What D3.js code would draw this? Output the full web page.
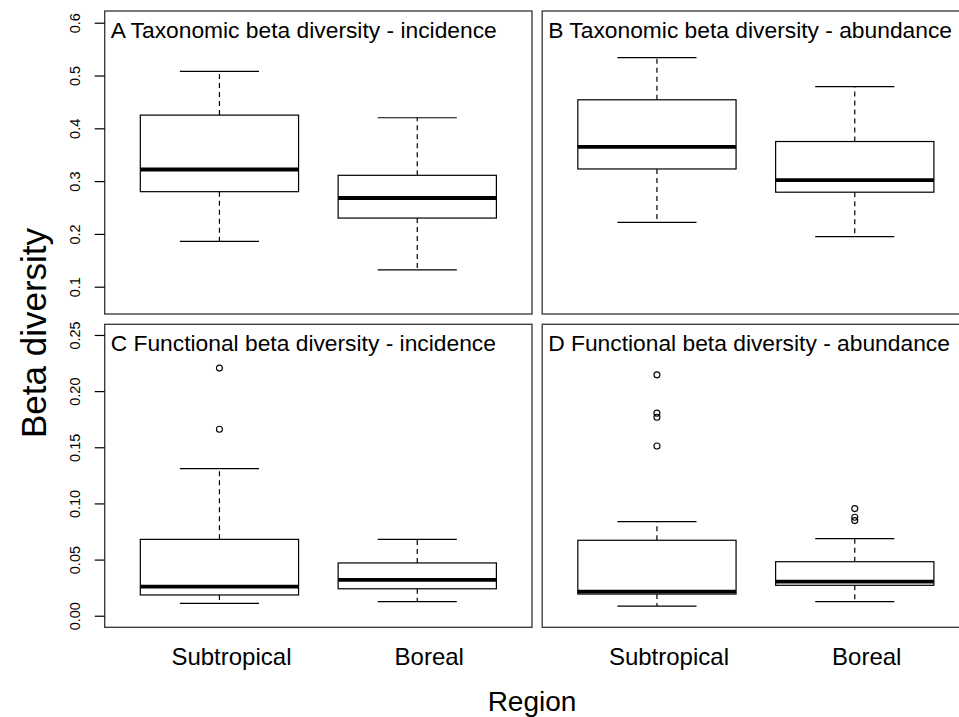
<!DOCTYPE html>
<html>
<head>
<meta charset="utf-8">
<script src="https://cdn.jsdelivr.net/npm/d3@7"></script>
<style>
  body { margin: 0; background: #fff; }
  svg { font-family: "Liberation Sans", Arial, sans-serif; }
</style>
</head>
<body>
<svg width="959" height="717"></svg>
<script>
// categories
const regions = ["Subtropical", "Boreal"];
const panelTitles = [
  "A Taxonomic beta diversity - incidence",
  "B Taxonomic beta diversity - abundance",
  "C Functional beta diversity - incidence",
  "D Functional beta diversity - abundance"
];
// box stats per region: [lower whisker, Q1, median, Q3, upper whisker]
const taxIncidence = [[0.186, 0.280, 0.322, 0.425, 0.508], [0.132, 0.230, 0.268, 0.311, 0.420]];
const taxAbundance = [[0.222, 0.323, 0.365, 0.454, 0.534], [0.195, 0.279, 0.302, 0.375, 0.479]];
const funIncidence = [[0.011, 0.0185, 0.026, 0.068, 0.131], [0.0125, 0.024, 0.032, 0.047, 0.068]];
const funAbundance = [[0.0086, 0.0193, 0.0214, 0.0672, 0.0838], [0.0125, 0.0271, 0.0303, 0.0481, 0.0686]];
// outliers per region
const funIncidenceOut = [[0.2205, 0.166], []];
const funAbundanceOut = [[0.2145, 0.1804, 0.1768, 0.1512], [0.0954, 0.0877, 0.0847]];
const taxOut = [[], []];
// tick labels
const topTicks = [0.1, 0.2, 0.3, 0.4, 0.5, 0.6];
const bottomTicks = [0.00, 0.05, 0.10, 0.15, 0.20, 0.25];

const svg = d3.select('svg');

const colX = [104.7, 542.2], panelW = 427.3;
const rowY = [11, 324.3], panelH = 303;
const topDomain = [0.0483, 0.6222], bottomDomain = [-0.0103, 0.2595];

const panels = [
  {title: panelTitles[0], stats: taxIncidence, out: taxOut, col: 0, row: 0},
  {title: panelTitles[1], stats: taxAbundance, out: taxOut, col: 1, row: 0},
  {title: panelTitles[2], stats: funIncidence, out: funIncidenceOut, col: 0, row: 1},
  {title: panelTitles[3], stats: funAbundance, out: funAbundanceOut, col: 1, row: 1}
];

panels.forEach(function(p) {
  const x0 = colX[p.col], y0 = rowY[p.row];
  const x = d3.scaleLinear().domain([0.42, 2.58]).range([x0, x0 + panelW]);
  const y = d3.scaleLinear().domain(p.row == 0 ? topDomain : bottomDomain).range([y0 + panelH, y0]);
  const g = svg.append('g');

  g.append('rect')
    .attr('x', x0).attr('y', y0)
    .attr('width', panelW).attr('height', panelH)
    .attr('fill', 'none').attr('stroke', '#333').attr('stroke-width', 1.3);

  g.append('text')
    .attr('x', x0 + 6).attr('y', y0 + 26.5)
    .attr('font-size', '22.8px')
    .text(p.title);

  p.stats.forEach(function(s, i) {
    const cx = x(i + 1);
    const bw = x(1.4) - x(1), cw = x(1.2) - x(1);
    // whiskers
    g.append('line').attr('x1', cx).attr('x2', cx).attr('y1', y(s[3])).attr('y2', y(s[4]))
      .attr('stroke', '#000').attr('stroke-width', 1.2).attr('stroke-dasharray', '5,4');
    g.append('line').attr('x1', cx).attr('x2', cx).attr('y1', y(s[1])).attr('y2', y(s[0]))
      .attr('stroke', '#000').attr('stroke-width', 1.2).attr('stroke-dasharray', '5,4');
    [s[0], s[4]].forEach(function(v) {
      g.append('line').attr('x1', cx - cw).attr('x2', cx + cw).attr('y1', y(v)).attr('y2', y(v))
        .attr('stroke', '#000').attr('stroke-width', 1.2);
    });
    g.append('rect')
      .attr('x', cx - bw).attr('width', 2 * bw)
      .attr('y', y(s[3])).attr('height', y(s[1]) - y(s[3]))
      .attr('fill', '#fff').attr('stroke', '#000').attr('stroke-width', 1.2);
    g.append('line').attr('x1', cx - bw).attr('x2', cx + bw).attr('y1', y(s[2])).attr('y2', y(s[2]))
      .attr('stroke', '#000').attr('stroke-width', 3.8);

    g.selectAll(null).data(p.out[i]).enter().append('circle')
      .attr('cx', cx).attr('cy', function(d) { return y(d); })
      .attr('r', 3).attr('fill', 'none').attr('stroke', '#000').attr('stroke-width', 1.1);
  });

  // y axis only on left column
  if (p.col == 0) {
    const ticks = p.row == 0 ? topTicks : bottomTicks;
    const fmt = p.row == 0 ? d3.format('.1f') : d3.format('.2f');
    const ax = g.append('g').attr('transform', 'translate(' + x0 + ',0)')
      .call(d3.axisLeft(y).tickValues(ticks).tickFormat(fmt).tickSize(10).tickPadding(0));
    ax.select('.domain').remove();
    ax.selectAll('.tick line').attr('stroke', '#000').attr('stroke-width', 1.2);
    ax.selectAll('.tick text')
      .attr('font-size', '14.5px').attr('font-family', '"Liberation Sans", Arial, sans-serif')
      .attr('fill', '#000')
      .attr('text-anchor', 'middle')
      .attr('x', 0).attr('dy', 0)
      .attr('transform', 'translate(-25,0) rotate(-90)');
  }

  // x labels only on bottom row
  if (p.row == 1) {
    g.selectAll(null).data(regions).enter().append('text')
      .attr('x', function(d, i) { return x(i + 1) + 12; })
      .attr('y', 665)
      .attr('text-anchor', 'middle')
      .attr('font-size', '24px')
      .text(function(d) { return d; });
  }
});

svg.append('text')
  .attr('x', 532).attr('y', 711)
  .attr('text-anchor', 'middle')
  .attr('font-size', '28px')
  .text('Region');

svg.append('text')
  .attr('transform', 'translate(46,333) rotate(-90)')
  .attr('text-anchor', 'middle')
  .attr('font-size', '35px')
  .text('Beta diversity');
</script>
</body>
</html>
